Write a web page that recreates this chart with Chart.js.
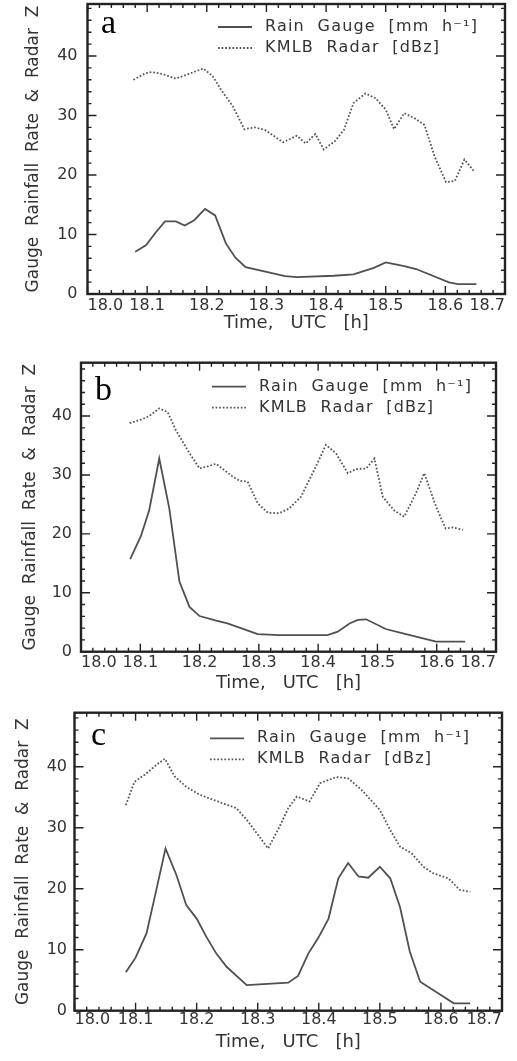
<!DOCTYPE html>
<html>
<head>
<meta charset="utf-8">
<script src="https://cdn.jsdelivr.net/npm/chart.js@4.4.1/dist/chart.umd.min.js"></script>
<style>
html,body{margin:0;padding:0;background:#fff;}
body{width:517px;height:1061px;position:relative;overflow:hidden;}
canvas{position:absolute;left:0;display:block;}
</style>
</head>
<body>
<canvas id="ca" width="517" height="340" style="top:0px"></canvas>
<canvas id="cb" width="517" height="360" style="top:340px"></canvas>
<canvas id="cc" width="517" height="371" style="top:690px"></canvas>
<script>
// ---------- data ----------
const xTicks = [18.0, 18.1, 18.2, 18.3, 18.4, 18.5, 18.6, 18.7];
const xTickLabels = ['18.0', '18.1', '18.2', '18.3', '18.4', '18.5', '18.6', '18.7'];
const yTicks = [0, 10, 20, 30, 40];
const yTickLabels = ['0', '10', '20', '30', '40'];
const seriesNames = ['Rain  Gauge  [mm  h\u207B\u00B9]', 'KMLB  Radar  [dBz]'];
const panelLetters = ['a', 'b', 'c'];
const xTitle = 'Time,   UTC   [h]';
const yTitle = 'Gauge  Rainfall  Rate  &  Radar  Z';

// panel a
const aGaugeTime = [18.080,18.098,18.114,18.130,18.148,18.163,18.179,18.197,18.214,18.232,18.248,18.265,18.300,18.331,18.351,18.413,18.446,18.480,18.500,18.531,18.551,18.606,18.621,18.652];
const aGaugeRate = [7.1,8.2,10.3,12.2,12.2,11.5,12.4,14.3,13.2,8.5,6.1,4.5,3.7,3.0,2.85,3.07,3.3,4.4,5.3,4.7,4.2,1.95,1.67,1.67];
const aRadarTime = [18.077,18.097,18.108,18.125,18.148,18.170,18.194,18.210,18.224,18.244,18.263,18.280,18.297,18.328,18.351,18.366,18.382,18.396,18.415,18.430,18.446,18.466,18.483,18.500,18.514,18.531,18.551,18.565,18.582,18.601,18.616,18.632,18.649];
const aRadarDbz = [36.0,37.1,37.3,37.0,36.2,37.0,37.9,36.6,34.3,31.5,27.7,28.0,27.6,25.5,26.6,25.3,26.9,24.3,25.7,27.6,32.1,33.7,32.9,31.0,27.7,30.4,29.4,28.4,23.1,18.8,19.0,22.6,20.5];

// panel b
const bGaugeTime = [18.083,18.101,18.115,18.132,18.149,18.166,18.183,18.200,18.228,18.247,18.278,18.298,18.334,18.416,18.433,18.453,18.467,18.481,18.514,18.548,18.599,18.648];
const bGaugeRate = [15.7,19.6,24.0,32.8,24.3,11.9,7.6,6.05,5.26,4.8,3.7,3.0,2.8,2.8,3.4,4.8,5.4,5.5,3.85,3.0,1.7,1.7];
const bRadarTime = [18.082,18.104,18.115,18.132,18.146,18.160,18.183,18.200,18.211,18.228,18.256,18.268,18.281,18.298,18.315,18.334,18.351,18.371,18.396,18.413,18.430,18.450,18.464,18.481,18.495,18.509,18.528,18.545,18.565,18.579,18.599,18.615,18.627,18.644];
const bRadarDbz = [38.8,39.5,40.0,41.3,40.7,37.6,33.7,31.1,31.4,31.9,29.7,29.0,28.9,25.2,23.6,23.5,24.3,26.3,31.4,35.1,33.7,30.3,31.0,31.1,32.8,26.3,24.0,22.9,26.9,30.3,24.6,20.9,21.1,20.7];

// panel c
const cGaugeTime = [18.084,18.100,18.118,18.134,18.149,18.167,18.183,18.200,18.216,18.232,18.249,18.282,18.350,18.366,18.383,18.399,18.416,18.432,18.448,18.465,18.481,18.500,18.517,18.533,18.549,18.566,18.621,18.648];
const cGaugeRate = [6.3,8.7,12.7,19.8,26.6,22.2,17.3,15.1,12.1,9.4,7.2,4.2,4.6,5.7,9.4,11.9,15.1,21.7,24.2,22.0,21.8,23.6,21.7,17.0,9.7,4.75,1.2,1.2];
const cRadarTime = [18.084,18.098,18.118,18.134,18.148,18.164,18.183,18.205,18.232,18.265,18.282,18.317,18.336,18.350,18.364,18.385,18.402,18.429,18.448,18.470,18.500,18.517,18.533,18.552,18.571,18.588,18.612,18.631,18.648];
const cRadarDbz = [33.7,37.5,38.9,40.3,41.3,38.4,36.7,35.4,34.4,33.2,31.3,26.6,30.2,33.2,35.1,34.3,37.3,38.3,38.1,36.2,32.9,29.6,26.9,25.8,23.6,22.5,21.7,19.8,19.5];

// ---------- layout / style ----------
const FONT = 'DejaVu Sans';
const TXT = '#333';
const W = 517;
const geos = [
  {H:340, L:87.5, T:4,    R:505, B:294,   yMax:48.74, yPad:10,  xPad:2, yTitleX:34,   xTitleY:323.5, legX:218, legY:27,   letX:101, letY:33},
  {H:360, L:81,   T:22.7, R:496, B:311.7, yMax:49.06, yPad:9,   xPad:2, yTitleX:30.5, xTitleY:343.5, legX:212, legY:46.7, letX:95,  letY:60},
  {H:371, L:74.5, T:22.7, R:502, B:320.7, yMax:48.85, yPad:7.5, xPad:0, yTitleX:23.5, xTitleY:352.5, legX:210, legY:48.3, letX:91,  letY:55}
];

const framePlugin = {
  id: 'frameTicks',
  afterDraw(chart) {
    const g = chart.options.plugins.frameTicks;
    const {ctx, chartArea: {left, right, top, bottom}, scales: {x, y}} = chart;
    ctx.save();
    ctx.strokeStyle = '#222';
    ctx.lineWidth = 1.4;
    ctx.beginPath();
    for (let i = 0; i <= 35; i++) {
      const v = 18 + i * 0.02;
      const len = (i % 5 === 0) ? 8 : 4;
      const px = x.getPixelForValue(v);
      ctx.moveTo(px, bottom); ctx.lineTo(px, bottom - len);
      ctx.moveTo(px, top); ctx.lineTo(px, top + len);
    }
    for (let i = 0; i * 2 <= y.max; i++) {
      const v = i * 2;
      const len = (i % 5 === 0) ? 9 : 4;
      const py = y.getPixelForValue(v);
      ctx.moveTo(left, py); ctx.lineTo(left + len, py);
      ctx.moveTo(right, py); ctx.lineTo(right - len, py);
    }
    ctx.stroke();
    ctx.lineWidth = 2.4;
    ctx.strokeRect(left, top, right - left, bottom - top);

    // legend
    const ds = chart.data.datasets;
    ds.forEach((d, i) => {
      const ly = g.legY + i * 21;
      ctx.save();
      ctx.strokeStyle = d.borderColor;
      ctx.lineWidth = d.borderWidth;
      ctx.setLineDash(d.borderDash || []);
      ctx.beginPath();
      ctx.moveTo(g.legX, ly); ctx.lineTo(g.legX + 34, ly);
      ctx.stroke();
      ctx.restore();
      ctx.save();
      ctx.fillStyle = TXT;
      ctx.font = '16px "' + FONT + '"';
      if ('letterSpacing' in ctx) ctx.letterSpacing = '1.2px';
      ctx.textBaseline = 'middle';
      ctx.textAlign = 'left';
      ctx.fillText(d.label, g.legX + 47, ly);
      ctx.restore();
    });
    // panel letter
    ctx.fillStyle = '#000';
    ctx.font = '34px "Liberation Serif"';
    ctx.textBaseline = 'alphabetic';
    ctx.textAlign = 'left';
    ctx.fillText(g.letter, g.letX, g.letY);
    ctx.restore();
  }
};

function makeChart(id, idx, gT, gV, rT, rV) {
  const g = geos[idx];
  return new Chart(document.getElementById(id), {
    type: 'scatter',
    data: {
      datasets: [
        {label: seriesNames[0], data: gT.map((t, i) => ({x: t, y: gV[i]})), showLine: true,
         borderColor: '#505050', borderWidth: 1.8, pointRadius: 0, tension: 0, fill: false},
        {label: seriesNames[1], data: rT.map((t, i) => ({x: t, y: rV[i]})), showLine: true,
         borderColor: '#555', borderWidth: 1.8, borderDash: [1.7, 1.9], pointRadius: 0, tension: 0, fill: false}
      ]
    },
    options: {
      responsive: false,
      animation: false,
      events: [],
      layout: {padding: {top: g.T, right: W - g.R, left: 0, bottom: 0}},
      plugins: {
        legend: {display: false},
        tooltip: {enabled: false},
        frameTicks: Object.assign({letter: panelLetters[idx]}, g)
      },
      scales: {
        x: {
          type: 'linear', min: 18.0, max: 18.7,
          grid: {display: false, drawTicks: false, tickLength: 0}, border: {display: false},
          afterBuildTicks: s => { s.ticks = xTicks.map(v => ({value: v})); },
          ticks: {align: 'inner', padding: g.xPad, autoSkip: false, maxRotation: 0,
                  font: {family: FONT, size: 16}, color: TXT,
                  callback: (v, i) => xTickLabels[i]},
          title: {display: true, text: xTitle, color: TXT, font: {family: FONT, size: 18},
                  padding: {top: 0, bottom: (g.H - g.xTitleY) - 10.8}},
          afterFit: s => { s.height = g.H - g.B; s.paddingLeft = 0; s.paddingRight = 0; }
        },
        y: {
          type: 'linear', min: 0, max: g.yMax,
          grid: {display: false, drawTicks: false, tickLength: 0}, border: {display: false},
          afterBuildTicks: s => { s.ticks = yTicks.map(v => ({value: v})); },
          ticks: {padding: g.yPad, font: {family: FONT, size: 16}, color: TXT,
                  callback: (v, i) => yTickLabels[i]},
          title: {display: true, text: yTitle, color: TXT, font: {family: FONT, size: 17},
                  padding: {top: g.yTitleX - 10.2, bottom: 0}},
          afterFit: s => { s.width = g.L; s.paddingTop = 0; s.paddingBottom = 0; }
        }
      }
    },
    plugins: [framePlugin]
  });
}

makeChart('ca', 0, aGaugeTime, aGaugeRate, aRadarTime, aRadarDbz);
makeChart('cb', 1, bGaugeTime, bGaugeRate, bRadarTime, bRadarDbz);
makeChart('cc', 2, cGaugeTime, cGaugeRate, cRadarTime, cRadarDbz);
</script>
</body>
</html>
